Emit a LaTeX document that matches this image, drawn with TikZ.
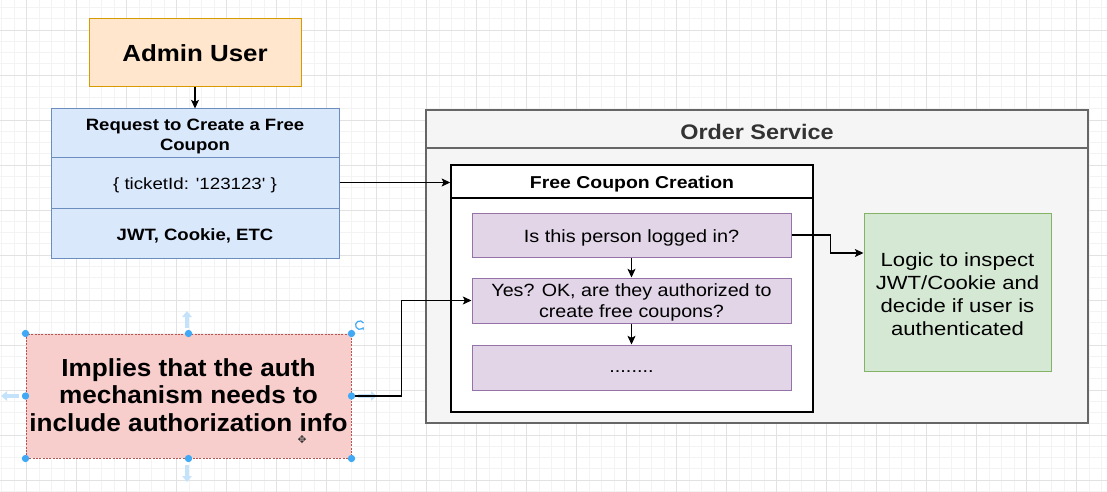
\documentclass[tikz,border=0pt]{standalone}
\usepackage{fontspec}
\setmainfont{Liberation Sans}
\newfontfamily\djv{DejaVu Sans}
\usepackage{graphicx}
\usetikzlibrary{arrows.meta,fit,calc}
\definecolor{gridminor}{HTML}{F3F3F3}
\definecolor{gridmajor}{HTML}{E2E2E2}
\definecolor{orfill}{HTML}{FFE6CC}
\definecolor{ordraw}{HTML}{D79B00}
\definecolor{blfill}{HTML}{DAE8FC}
\definecolor{bldraw}{HTML}{6C8EBF}
\definecolor{gyfill}{HTML}{F5F5F5}
\definecolor{gydraw}{HTML}{666666}
\definecolor{gytext}{HTML}{333333}
\definecolor{pufill}{HTML}{E1D5E7}
\definecolor{pudraw}{HTML}{9673A6}
\definecolor{grfill}{HTML}{D5E8D4}
\definecolor{grdraw}{HTML}{82B366}
\definecolor{pkfill}{HTML}{F8CECC}
\definecolor{pkdraw}{HTML}{B85450}
\definecolor{handle}{HTML}{3FA9F5}
\definecolor{handlelt}{HTML}{C4E3FA}
\newcommand{\hsx}[2]{\scalebox{#1}[1]{\begin{tabular}[t]{@{}c@{}}#2\end{tabular}}}
\tikzset{
  shape box/.style={draw, rectangle, inner sep=0pt, line width=0.75pt},
  orangebox/.style={shape box, fill=orfill, draw=ordraw},
  bluebox/.style={shape box, fill=blfill, draw=bldraw},
  graybox/.style={shape box, fill=gyfill, draw=gydraw, line width=1pt},
  whitebox/.style={shape box, fill=white, draw=black, line width=1.1pt},
  purplebox/.style={shape box, fill=pufill, draw=pudraw},
  greenbox/.style={shape box, fill=grfill, draw=grdraw},
  pinkbox/.style={shape box, fill=pkfill, draw=pkdraw, dash pattern=on 1.5pt off 1pt},
  txt/.style={anchor=base, inner sep=0pt},
  conn/.style={-{Stealth[length=6.5pt,width=6pt,inset=1.5pt]}, line width=0.8pt, draw=black},
  handledot/.style={circle, fill=handle, inner sep=0pt, minimum size=5.5pt},
  handlearrow/.style={-{Triangle[length=4.5pt,width=7pt]}, draw=handlelt, line width=2.6pt},
}
\begin{document}
\begin{tikzpicture}[x=0.75pt, y=-0.75pt]
\useasboundingbox (0,0) rectangle (1107,492);
\fill[white] (0,0) rectangle (1107,492);
% grid
\foreach \i in {0,...,90} {
  \draw[gridminor, line width=0.5pt] ({1.7+12.5*\i},0) -- ({1.7+12.5*\i},492);
}
\foreach \i in {0,...,44} {
  \draw[gridminor, line width=0.5pt] (0,{7.5+11.25*\i}) -- (1107,{7.5+11.25*\i});
}
\foreach \i in {0,...,22} {
  \draw[gridmajor, line width=0.6pt] ({26.7+50*\i},0) -- ({26.7+50*\i},492);
}
\foreach \i in {0,...,10} {
  \draw[gridmajor, line width=0.6pt] (0,{30+45*\i}) -- (1107,{30+45*\i});
}

% Admin user
\node[orangebox, fit={(89,19)(301,87)}] (admin) {};
\node[txt, font=\bfseries\fontsize{17.5}{21}\selectfont] (admintext) at (admin.center |- 0,61.7) {\scalebox{1.11}[1]{Admin User}};

% Request box
\node[bluebox, fit={(51,109)(339,157)}] (reqhead) {};
\node[bluebox, fit={(51,157)(339,208)}] (reqmid) {};
\node[bluebox, fit={(51,208)(339,258)}] (reqbot) {};
\node[txt, font=\bfseries\fontsize{12.3}{15.5}\selectfont] (reqheadtext) at (reqhead.center |- 0,130) {\hsx{1.13}{Request to Create a Free\\Coupon}};
\node[txt, font=\fontsize{12.2}{14.6}\selectfont] (reqmidtext) at (reqmid.center |- 0,189.3) {\scalebox{1.15}[1]{\{ ticketId: \textquotesingle123123\textquotesingle\ \}}};
\node[txt, font=\bfseries\fontsize{12.3}{14.6}\selectfont] (reqbottext) at (reqbot.center |- 0,240.7) {\scalebox{1.13}[1]{JWT, Cookie, ETC}};

% Order service
\node[graybox, fit={(426,110)(1088,423)}] (os) {};
\node[graybox, fit={(426,110)(1088,148)}] (oshead) {};
\node[txt, font=\bfseries\fontsize{15.8}{19}\selectfont, text=gytext] (osheadtext) at (oshead.center |- 0,139.3) {\scalebox{1.11}[1]{Order Service}};

% Free coupon creation
\node[whitebox, fit={(451,165)(813,412)}] (fcc) {};
\node[whitebox, fit={(451,165)(813,198)}] (fcchead) {};
\node[txt, font=\bfseries\fontsize{12.9}{15.5}\selectfont] (fccheadtext) at (fcchead.center |- 0,188.3) {\scalebox{1.13}[1]{Free Coupon Creation}};

\node[purplebox, fit={(472,213)(791,257)}] (p1) {};
\node[purplebox, fit={(472,278)(791,323)}] (p2) {};
\node[purplebox, fit={(472,345)(791,390)}] (p3) {};
\node[txt, font=\fontsize{13.3}{16}\selectfont] (p1text) at (p1.center |- 0,242.7) {\scalebox{1.12}[1]{Is this person logged in?}};
\node[txt, font=\fontsize{13.3}{15.5}\selectfont] (p2text) at (p2.center |- 0,296.7) {\hsx{1.11}{Yes? OK, are they authorized to\\create free coupons?}};
\node[txt, font=\fontsize{13.3}{16}\selectfont] (p3text) at (p3.center |- 0,372.5) {\scalebox{1.12}[1]{........}};

% Logic box
\node[greenbox, fit={(864,213)(1051,371)}] (logic) {};
\node[txt, font=\fontsize{14.3}{17.4}\selectfont] (logictext) at (logic.center |- 0,266) {\hsx{1.16}{Logic to inspect\\JWT/Cookie and\\decide if user is\\authenticated}};

% Pink box
\node[pinkbox, fit={(26,334)(351,458)}] (pink) {};
\node[txt, font=\bfseries\fontsize{18.5}{20.8}\selectfont] (pinktext) at (pink.center |- 0,376) {\hsx{1.06}{Implies that the auth\\mechanism needs to\\include authorization info}};

% connectors
\draw[conn] (admin.south) -- (reqhead.north);
\draw[conn] (reqmid.east) -- (reqmid.east -| fcchead.west);
\draw[conn] (p1.south) -- (p2.north);
\draw[conn] (p2.south) -- (p3.north);
\draw[conn] (p1.east) -- ++(39,0) |- ([yshift=29.25pt]logic.west);

% selection decorations on pink box
\draw[handlearrow] (187,328) -- (187,311);
\draw[handlearrow] (187,465) -- (187,482);
\draw[handlearrow] (19,396) -- (1,396);
\draw[handlearrow] (358,396) -- (377,396);
\draw[conn] (pink.east) -- ++(50,0) |- (p2.west);
\foreach \a in {north west, north, north east, west, east, south west, south, south east} {
  \node[handledot] at (pink.\a) {};
}
\draw[handle, line width=0.9pt, -{Stealth[length=2pt,width=2.5pt]}] (363.5,323) arc[start angle=30, end angle=330, radius=3.2pt];
\node[font=\djv\fontsize{8}{8}\selectfont, text=gytext] (cursor) at (302,440) {✥};
\end{tikzpicture}
\end{document}
